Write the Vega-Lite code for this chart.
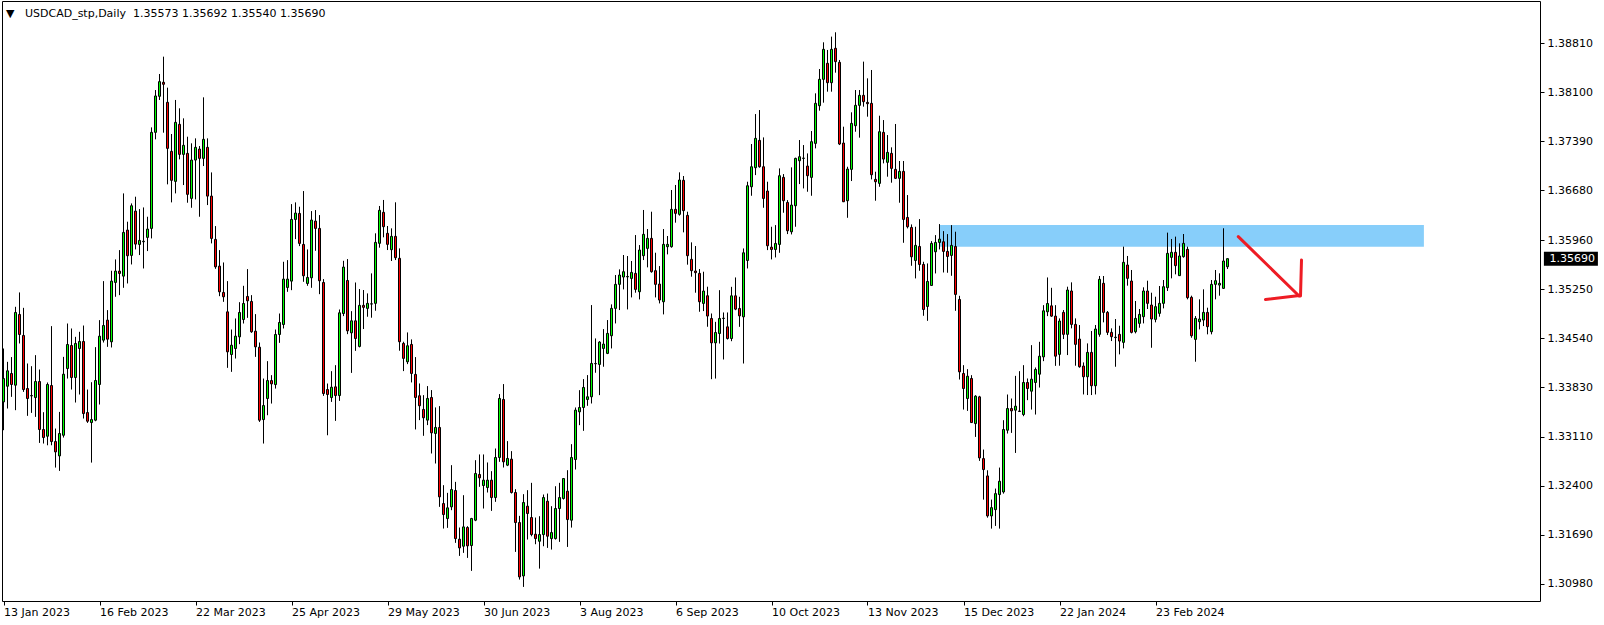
{
"$schema": "https://vega.github.io/schema/vega-lite/v6.json",
"width": 1538, "height": 600,
"autosize": {"type": "none"},
"padding": {"left": 2, "top": 1, "right": 64, "bottom": 24},
"background": "white",
"config": {"view": {"stroke": "black", "strokeWidth": 1}, "font": "DejaVu Sans",
  "scale": {"continuousPadding": 0},
  "axisX": {"domain": false, "grid": false, "ticks": true, "tickSize": 4, "tickColor": "black", "tickWidth": 1, "labelAlign": "left", "labelBaseline": "top", "labelPadding": 1, "labelFont": "DejaVu Sans", "labelFontSize": 11, "labelColor": "black", "labelFlush": false, "labelOverlap": false, "labelBound": false},
  "axisY": {"domain": false, "grid": false, "ticks": true, "tickSize": 4, "tickColor": "black", "tickWidth": 1, "labelPadding": 3, "labelFont": "DejaVu Sans", "labelFontSize": 11, "labelColor": "black", "labelBaseline": "middle", "labelFlush": false, "labelOverlap": false, "labelBound": false}
},
"title": {"text": "▼\u00a0\u00a0\u00a0USDCAD_stp,Daily\u00a0\u00a01.35573 1.35692 1.35540 1.35690", "anchor": "start", "frame": "group", "orient": "top", "offset": 0, "dx": 4, "dy": 27, "fontSize": 11, "fontWeight": "normal", "font": "DejaVu Sans", "color": "black", "baseline": "alphabetic"},
"datasets": {
"candles": [
{"i":0,"o":1.33616,"h":1.34389,"l":1.33206,"c":1.33954},
{"i":1,"o":1.33843,"h":1.34196,"l":1.3352,"c":1.34066},
{"i":2,"o":1.34027,"h":1.34265,"l":1.33689,"c":1.33868},
{"i":3,"o":1.33858,"h":1.34993,"l":1.33496,"c":1.34911},
{"i":4,"o":1.34882,"h":1.35201,"l":1.34462,"c":1.34592},
{"i":5,"o":1.34578,"h":1.34978,"l":1.33761,"c":1.33795},
{"i":6,"o":1.3381,"h":1.34172,"l":1.33414,"c":1.33665},
{"i":7,"o":1.33703,"h":1.34133,"l":1.33457,"c":1.33708},
{"i":8,"o":1.33679,"h":1.34293,"l":1.33399,"c":1.33911},
{"i":9,"o":1.33911,"h":1.34085,"l":1.33022,"c":1.33216},
{"i":10,"o":1.33216,"h":1.33467,"l":1.33013,"c":1.331},
{"i":11,"o":1.33119,"h":1.33897,"l":1.32988,"c":1.33868},
{"i":12,"o":1.33853,"h":1.34713,"l":1.32988,"c":1.33042},
{"i":13,"o":1.33042,"h":1.3323,"l":1.32665,"c":1.32892},
{"i":14,"o":1.32834,"h":1.33471,"l":1.32617,"c":1.33158},
{"i":15,"o":1.33133,"h":1.34268,"l":1.331,"c":1.34017},
{"i":16,"o":1.34099,"h":1.34751,"l":1.33954,"c":1.34447},
{"i":17,"o":1.34433,"h":1.34679,"l":1.33795,"c":1.33969},
{"i":18,"o":1.33969,"h":1.34558,"l":1.33607,"c":1.34462},
{"i":19,"o":1.34389,"h":1.34631,"l":1.33723,"c":1.34491},
{"i":20,"o":1.34491,"h":1.34722,"l":1.33375,"c":1.33447},
{"i":21,"o":1.33462,"h":1.33795,"l":1.33312,"c":1.33336},
{"i":22,"o":1.33317,"h":1.33901,"l":1.32737,"c":1.3336},
{"i":23,"o":1.33351,"h":1.34409,"l":1.33336,"c":1.33926},
{"i":24,"o":1.33868,"h":1.348,"l":1.33578,"c":1.34568},
{"i":25,"o":1.3451,"h":1.35365,"l":1.34476,"c":1.34722},
{"i":26,"o":1.348,"h":1.34945,"l":1.34413,"c":1.34524},
{"i":27,"o":1.34486,"h":1.35515,"l":1.34404,"c":1.35365},
{"i":28,"o":1.35346,"h":1.35679,"l":1.35138,"c":1.3551},
{"i":29,"o":1.3551,"h":1.35814,"l":1.35162,"c":1.35476},
{"i":30,"o":1.35437,"h":1.36635,"l":1.35268,"c":1.3607},
{"i":31,"o":1.36104,"h":1.36225,"l":1.35331,"c":1.35732},
{"i":32,"o":1.35737,"h":1.3649,"l":1.35606,"c":1.36456},
{"i":33,"o":1.36379,"h":1.36587,"l":1.35824,"c":1.35901},
{"i":34,"o":1.35896,"h":1.36408,"l":1.35742,"c":1.35954},
{"i":35,"o":1.35935,"h":1.36432,"l":1.35548,"c":1.35942},
{"i":36,"o":1.35998,"h":1.36297,"l":1.358,"c":1.36118},
{"i":37,"o":1.36128,"h":1.37591,"l":1.35983,"c":1.37519},
{"i":38,"o":1.37519,"h":1.38132,"l":1.37418,"c":1.38046},
{"i":39,"o":1.38041,"h":1.38364,"l":1.37988,"c":1.38253},
{"i":40,"o":1.38244,"h":1.38615,"l":1.37514,"c":1.38215},
{"i":41,"o":1.37954,"h":1.38166,"l":1.36766,"c":1.37287},
{"i":42,"o":1.37244,"h":1.37495,"l":1.36505,"c":1.36824},
{"i":43,"o":1.36809,"h":1.37988,"l":1.36635,"c":1.37664},
{"i":44,"o":1.37635,"h":1.37867,"l":1.37128,"c":1.372},
{"i":45,"o":1.372,"h":1.37722,"l":1.36756,"c":1.37331},
{"i":46,"o":1.37215,"h":1.37456,"l":1.365,"c":1.36621},
{"i":47,"o":1.36563,"h":1.3736,"l":1.36427,"c":1.37118},
{"i":48,"o":1.37118,"h":1.37432,"l":1.36548,"c":1.37302},
{"i":49,"o":1.37277,"h":1.37321,"l":1.36297,"c":1.37142},
{"i":50,"o":1.37142,"h":1.38026,"l":1.37031,"c":1.37418},
{"i":51,"o":1.37302,"h":1.37432,"l":1.36466,"c":1.36596},
{"i":52,"o":1.36596,"h":1.36939,"l":1.35911,"c":1.35983},
{"i":53,"o":1.35969,"h":1.36162,"l":1.35543,"c":1.35572},
{"i":54,"o":1.35582,"h":1.35814,"l":1.35147,"c":1.3521},
{"i":55,"o":1.35201,"h":1.35635,"l":1.35065,"c":1.35138},
{"i":56,"o":1.3492,"h":1.35365,"l":1.34109,"c":1.34341},
{"i":57,"o":1.34302,"h":1.34664,"l":1.34051,"c":1.34437},
{"i":58,"o":1.34389,"h":1.34824,"l":1.34244,"c":1.34568},
{"i":59,"o":1.34558,"h":1.3506,"l":1.34452,"c":1.34911},
{"i":60,"o":1.34809,"h":1.35297,"l":1.34751,"c":1.35041},
{"i":61,"o":1.35143,"h":1.35539,"l":1.34833,"c":1.3508},
{"i":62,"o":1.3507,"h":1.35162,"l":1.34616,"c":1.34631},
{"i":63,"o":1.3464,"h":1.34887,"l":1.34268,"c":1.34413},
{"i":64,"o":1.34408,"h":1.34476,"l":1.33326,"c":1.33351},
{"i":65,"o":1.3336,"h":1.33954,"l":1.33013,"c":1.33563},
{"i":66,"o":1.33665,"h":1.34206,"l":1.33423,"c":1.33925},
{"i":67,"o":1.33925,"h":1.34003,"l":1.33592,"c":1.33877},
{"i":68,"o":1.33867,"h":1.34664,"l":1.33809,"c":1.34592},
{"i":69,"o":1.34592,"h":1.34896,"l":1.34471,"c":1.34766},
{"i":70,"o":1.34737,"h":1.35645,"l":1.34679,"c":1.35394},
{"i":71,"o":1.35273,"h":1.35669,"l":1.3521,"c":1.35394},
{"i":72,"o":1.35365,"h":1.3648,"l":1.35234,"c":1.36258},
{"i":73,"o":1.36258,"h":1.36505,"l":1.35973,"c":1.3635},
{"i":74,"o":1.36345,"h":1.36442,"l":1.35872,"c":1.35911},
{"i":75,"o":1.35896,"h":1.36669,"l":1.35355,"c":1.35442},
{"i":76,"o":1.35331,"h":1.35824,"l":1.35297,"c":1.35418},
{"i":77,"o":1.35413,"h":1.36379,"l":1.35268,"c":1.36249},
{"i":78,"o":1.36234,"h":1.36394,"l":1.35804,"c":1.36128},
{"i":79,"o":1.36128,"h":1.36321,"l":1.35176,"c":1.3537},
{"i":80,"o":1.35345,"h":1.35394,"l":1.33703,"c":1.33737},
{"i":81,"o":1.33795,"h":1.33882,"l":1.33133,"c":1.33723},
{"i":82,"o":1.33679,"h":1.34061,"l":1.33616,"c":1.33829},
{"i":83,"o":1.33834,"h":1.34148,"l":1.33341,"c":1.33708},
{"i":84,"o":1.33708,"h":1.34954,"l":1.33631,"c":1.34906},
{"i":85,"o":1.34896,"h":1.35659,"l":1.34858,"c":1.35568},
{"i":86,"o":1.35374,"h":1.35684,"l":1.34597,"c":1.34645},
{"i":87,"o":1.34616,"h":1.3493,"l":1.34036,"c":1.3479},
{"i":88,"o":1.3479,"h":1.35345,"l":1.34355,"c":1.34534},
{"i":89,"o":1.34419,"h":1.3525,"l":1.34405,"c":1.35014},
{"i":90,"o":1.35014,"h":1.35236,"l":1.34671,"c":1.34985},
{"i":91,"o":1.3497,"h":1.35187,"l":1.34849,"c":1.35043},
{"i":92,"o":1.35033,"h":1.35477,"l":1.34835,"c":1.35036},
{"i":93,"o":1.35043,"h":1.36057,"l":1.34936,"c":1.35926},
{"i":94,"o":1.35912,"h":1.36453,"l":1.35849,"c":1.3639},
{"i":95,"o":1.36361,"h":1.3654,"l":1.35999,"c":1.36153},
{"i":96,"o":1.36057,"h":1.36163,"l":1.35815,"c":1.35897},
{"i":97,"o":1.3582,"h":1.36129,"l":1.35656,"c":1.36013},
{"i":98,"o":1.36013,"h":1.36506,"l":1.3567,"c":1.35704},
{"i":99,"o":1.35695,"h":1.35839,"l":1.34357,"c":1.34487},
{"i":100,"o":1.34463,"h":1.34487,"l":1.34062,"c":1.34246},
{"i":101,"o":1.34197,"h":1.34622,"l":1.34163,"c":1.34429},
{"i":102,"o":1.34448,"h":1.34521,"l":1.33898,"c":1.34028},
{"i":103,"o":1.34014,"h":1.34265,"l":1.33217,"c":1.3368},
{"i":104,"o":1.33705,"h":1.33883,"l":1.33352,"c":1.3356},
{"i":105,"o":1.33507,"h":1.33714,"l":1.33125,"c":1.33386},
{"i":106,"o":1.33352,"h":1.33845,"l":1.3328,"c":1.33666},
{"i":107,"o":1.3368,"h":1.33787,"l":1.32869,"c":1.33168},
{"i":108,"o":1.33159,"h":1.33536,"l":1.32724,"c":1.33246},
{"i":109,"o":1.33246,"h":1.33555,"l":1.32096,"c":1.32241},
{"i":110,"o":1.32144,"h":1.3241,"l":1.31782,"c":1.31985},
{"i":111,"o":1.31927,"h":1.32299,"l":1.31792,"c":1.32082},
{"i":112,"o":1.32096,"h":1.327,"l":1.32048,"c":1.32347},
{"i":113,"o":1.32333,"h":1.32458,"l":1.31575,"c":1.31637},
{"i":114,"o":1.31628,"h":1.31797,"l":1.31386,"c":1.31502},
{"i":115,"o":1.31526,"h":1.32265,"l":1.3143,"c":1.31806},
{"i":116,"o":1.31797,"h":1.31816,"l":1.31357,"c":1.31531},
{"i":117,"o":1.31536,"h":1.31937,"l":1.31169,"c":1.31927},
{"i":118,"o":1.31903,"h":1.32772,"l":1.31889,"c":1.32579},
{"i":119,"o":1.32565,"h":1.32855,"l":1.32386,"c":1.32516},
{"i":120,"o":1.32405,"h":1.32855,"l":1.32072,"c":1.32483},
{"i":121,"o":1.32376,"h":1.32739,"l":1.32304,"c":1.32483},
{"i":122,"o":1.32483,"h":1.32613,"l":1.32038,"c":1.32231},
{"i":123,"o":1.32231,"h":1.32941,"l":1.32169,"c":1.32811},
{"i":124,"o":1.32811,"h":1.33729,"l":1.32748,"c":1.33666},
{"i":125,"o":1.33651,"h":1.33874,"l":1.32666,"c":1.32748},
{"i":126,"o":1.327,"h":1.33048,"l":1.32686,"c":1.32797},
{"i":127,"o":1.32787,"h":1.32903,"l":1.32289,"c":1.32304},
{"i":128,"o":1.32304,"h":1.32352,"l":1.31444,"c":1.31869},
{"i":129,"o":1.31869,"h":1.31966,"l":1.31043,"c":1.31082},
{"i":130,"o":1.31096,"h":1.3228,"l":1.30937,"c":1.32159},
{"i":131,"o":1.32106,"h":1.32338,"l":1.31623,"c":1.32},
{"i":132,"o":1.31942,"h":1.32444,"l":1.3167,"c":1.31695},
{"i":133,"o":1.317,"h":1.31941,"l":1.31555,"c":1.31637},
{"i":134,"o":1.31598,"h":1.31961,"l":1.31202,"c":1.31695},
{"i":135,"o":1.31695,"h":1.32275,"l":1.31526,"c":1.32231},
{"i":136,"o":1.32178,"h":1.32289,"l":1.31502,"c":1.31671},
{"i":137,"o":1.31637,"h":1.32106,"l":1.31478,"c":1.31724},
{"i":138,"o":1.31637,"h":1.32395,"l":1.31623,"c":1.32072},
{"i":139,"o":1.32072,"h":1.32444,"l":1.31589,"c":1.32231},
{"i":140,"o":1.32217,"h":1.3251,"l":1.32202,"c":1.32506},
{"i":141,"o":1.32323,"h":1.32627,"l":1.31516,"c":1.31912},
{"i":142,"o":1.31903,"h":1.33004,"l":1.31796,"c":1.32811},
{"i":143,"o":1.32782,"h":1.33535,"l":1.32637,"c":1.33497},
{"i":144,"o":1.33472,"h":1.33786,"l":1.33279,"c":1.33535},
{"i":145,"o":1.33535,"h":1.33946,"l":1.33197,"c":1.33825},
{"i":146,"o":1.33651,"h":1.34004,"l":1.33559,"c":1.3369},
{"i":147,"o":1.3369,"h":1.35018,"l":1.33593,"c":1.34173},
{"i":148,"o":1.34168,"h":1.34535,"l":1.34038,"c":1.34172},
{"i":149,"o":1.34158,"h":1.34496,"l":1.33714,"c":1.34482},
{"i":150,"o":1.3439,"h":1.3467,"l":1.34125,"c":1.34453},
{"i":151,"o":1.34318,"h":1.34801,"l":1.34308,"c":1.34608},
{"i":152,"o":1.34574,"h":1.35028,"l":1.3439,"c":1.3497},
{"i":153,"o":1.3497,"h":1.35453,"l":1.34752,"c":1.35318},
{"i":154,"o":1.35318,"h":1.35535,"l":1.34946,"c":1.35453},
{"i":155,"o":1.35424,"h":1.35743,"l":1.35245,"c":1.35501},
{"i":156,"o":1.35426,"h":1.35728,"l":1.34955,"c":1.35432},
{"i":157,"o":1.35404,"h":1.35656,"l":1.35129,"c":1.35491},
{"i":158,"o":1.35477,"h":1.36032,"l":1.35197,"c":1.35245},
{"i":159,"o":1.35211,"h":1.35887,"l":1.351,"c":1.35815},
{"i":160,"o":1.35733,"h":1.36395,"l":1.3567,"c":1.36042},
{"i":161,"o":1.35839,"h":1.36119,"l":1.35564,"c":1.35984},
{"i":162,"o":1.35984,"h":1.3637,"l":1.35487,"c":1.35501},
{"i":163,"o":1.35516,"h":1.35776,"l":1.35129,"c":1.35318},
{"i":164,"o":1.35322,"h":1.35583,"l":1.35042,"c":1.35091},
{"i":165,"o":1.35066,"h":1.36119,"l":1.34883,"c":1.35897},
{"i":166,"o":1.35863,"h":1.36018,"l":1.35752,"c":1.35897},
{"i":167,"o":1.35863,"h":1.36684,"l":1.35849,"c":1.36404},
{"i":168,"o":1.36404,"h":1.36757,"l":1.36211,"c":1.36346},
{"i":169,"o":1.36332,"h":1.3694,"l":1.36313,"c":1.36829},
{"i":170,"o":1.36825,"h":1.36887,"l":1.36071,"c":1.36385},
{"i":171,"o":1.36317,"h":1.3637,"l":1.35603,"c":1.35733},
{"i":172,"o":1.3568,"h":1.35926,"l":1.35429,"c":1.35516},
{"i":173,"o":1.35511,"h":1.35873,"l":1.35197,"c":1.35487},
{"i":174,"o":1.35477,"h":1.3554,"l":1.34921,"c":1.35066},
{"i":175,"o":1.35042,"h":1.35501,"l":1.34931,"c":1.35221},
{"i":176,"o":1.35153,"h":1.35284,"l":1.34704,"c":1.34859},
{"i":177,"o":1.34824,"h":1.34896,"l":1.33945,"c":1.34471},
{"i":178,"o":1.34471,"h":1.34775,"l":1.33954,"c":1.34621},
{"i":179,"o":1.34606,"h":1.35234,"l":1.34461,"c":1.34824},
{"i":180,"o":1.34824,"h":1.34911,"l":1.3423,"c":1.34828},
{"i":181,"o":1.34703,"h":1.34911,"l":1.34519,"c":1.34534},
{"i":182,"o":1.34534,"h":1.35282,"l":1.34495,"c":1.35152},
{"i":183,"o":1.35152,"h":1.35418,"l":1.34944,"c":1.34959},
{"i":184,"o":1.34969,"h":1.35138,"l":1.34703,"c":1.34862},
{"i":185,"o":1.34848,"h":1.35838,"l":1.34172,"c":1.35775},
{"i":186,"o":1.35664,"h":1.36804,"l":1.35548,"c":1.36746},
{"i":187,"o":1.36731,"h":1.3735,"l":1.36601,"c":1.37021},
{"i":188,"o":1.37007,"h":1.37784,"l":1.369,"c":1.37432},
{"i":189,"o":1.37403,"h":1.37842,"l":1.37007,"c":1.37021},
{"i":190,"o":1.37021,"h":1.37446,"l":1.36427,"c":1.36562},
{"i":191,"o":1.36669,"h":1.36804,"l":1.35814,"c":1.35877},
{"i":192,"o":1.35857,"h":1.36152,"l":1.35679,"c":1.35823},
{"i":193,"o":1.35823,"h":1.36176,"l":1.35708,"c":1.3591},
{"i":194,"o":1.35896,"h":1.36997,"l":1.35775,"c":1.36891},
{"i":195,"o":1.36867,"h":1.36915,"l":1.36355,"c":1.36529},
{"i":196,"o":1.36504,"h":1.36538,"l":1.36046,"c":1.36094},
{"i":197,"o":1.36079,"h":1.37012,"l":1.36041,"c":1.36466},
{"i":198,"o":1.36456,"h":1.37152,"l":1.36152,"c":1.37142},
{"i":199,"o":1.37108,"h":1.37408,"l":1.3677,"c":1.37166},
{"i":200,"o":1.37142,"h":1.37335,"l":1.36707,"c":1.37146},
{"i":201,"o":1.37031,"h":1.37214,"l":1.36659,"c":1.36891},
{"i":202,"o":1.36867,"h":1.37538,"l":1.36601,"c":1.37384},
{"i":203,"o":1.37359,"h":1.38084,"l":1.37287,"c":1.37939},
{"i":204,"o":1.37905,"h":1.38436,"l":1.37833,"c":1.38287},
{"i":205,"o":1.38287,"h":1.38823,"l":1.37949,"c":1.38721},
{"i":206,"o":1.38519,"h":1.38712,"l":1.38108,"c":1.38238},
{"i":207,"o":1.38238,"h":1.38905,"l":1.38108,"c":1.38721},
{"i":208,"o":1.38736,"h":1.38968,"l":1.38383,"c":1.38543},
{"i":209,"o":1.38533,"h":1.38567,"l":1.37335,"c":1.3735},
{"i":210,"o":1.37364,"h":1.37601,"l":1.3651,"c":1.36514},
{"i":211,"o":1.36529,"h":1.37021,"l":1.36282,"c":1.36987},
{"i":212,"o":1.36983,"h":1.37809,"l":1.36814,"c":1.37649},
{"i":213,"o":1.37615,"h":1.38132,"l":1.37528,"c":1.3791},
{"i":214,"o":1.3791,"h":1.38132,"l":1.37442,"c":1.38055},
{"i":215,"o":1.38055,"h":1.38543,"l":1.37891,"c":1.37963},
{"i":216,"o":1.37953,"h":1.38301,"l":1.37746,"c":1.37934},
{"i":217,"o":1.37939,"h":1.38422,"l":1.36838,"c":1.36905},
{"i":218,"o":1.36838,"h":1.36949,"l":1.36529,"c":1.36804},
{"i":219,"o":1.3678,"h":1.3776,"l":1.36731,"c":1.37528},
{"i":220,"o":1.37519,"h":1.37697,"l":1.3707,"c":1.37132},
{"i":221,"o":1.37085,"h":1.3748,"l":1.36877,"c":1.37229},
{"i":222,"o":1.37215,"h":1.37302,"l":1.3679,"c":1.36997},
{"i":223,"o":1.36983,"h":1.3764,"l":1.36843,"c":1.36853},
{"i":224,"o":1.36853,"h":1.37104,"l":1.365,"c":1.36954},
{"i":225,"o":1.36954,"h":1.37104,"l":1.3592,"c":1.36258},
{"i":226,"o":1.36287,"h":1.36611,"l":1.36128,"c":1.36152},
{"i":227,"o":1.36142,"h":1.36186,"l":1.35587,"c":1.35717},
{"i":228,"o":1.35664,"h":1.36152,"l":1.35404,"c":1.35882},
{"i":229,"o":1.35867,"h":1.36263,"l":1.35515,"c":1.35606},
{"i":230,"o":1.35606,"h":1.35645,"l":1.34863,"c":1.34954},
{"i":231,"o":1.34998,"h":1.35621,"l":1.3479,"c":1.3536},
{"i":232,"o":1.35302,"h":1.35944,"l":1.35298,"c":1.35911},
{"i":233,"o":1.3579,"h":1.36031,"l":1.35476,"c":1.35925},
{"i":234,"o":1.35925,"h":1.36191,"l":1.35824,"c":1.35973},
{"i":235,"o":1.35935,"h":1.36089,"l":1.3549,"c":1.35795},
{"i":236,"o":1.35795,"h":1.36046,"l":1.35486,"c":1.35722},
{"i":237,"o":1.35737,"h":1.36176,"l":1.35442,"c":1.35882},
{"i":238,"o":1.35867,"h":1.3608,"l":1.34935,"c":1.35172},
{"i":239,"o":1.35099,"h":1.35152,"l":1.3394,"c":1.34051},
{"i":240,"o":1.34027,"h":1.34148,"l":1.33505,"c":1.3381},
{"i":241,"o":1.33665,"h":1.3409,"l":1.33486,"c":1.33988},
{"i":242,"o":1.33955,"h":1.34003,"l":1.3331,"c":1.33317},
{"i":243,"o":1.33302,"h":1.33713,"l":1.33109,"c":1.33699},
{"i":244,"o":1.33689,"h":1.33704,"l":1.32762,"c":1.32805},
{"i":245,"o":1.32795,"h":1.32926,"l":1.32201,"c":1.32636},
{"i":246,"o":1.32544,"h":1.32626,"l":1.3194,"c":1.31965},
{"i":247,"o":1.31965,"h":1.32201,"l":1.31781,"c":1.32085},
{"i":248,"o":1.32056,"h":1.32361,"l":1.3182,"c":1.32288},
{"i":249,"o":1.32274,"h":1.32665,"l":1.31781,"c":1.32467},
{"i":250,"o":1.32312,"h":1.33351,"l":1.32288,"c":1.33216},
{"i":251,"o":1.33206,"h":1.33723,"l":1.33158,"c":1.3352},
{"i":252,"o":1.3352,"h":1.33665,"l":1.33167,"c":1.33486},
{"i":253,"o":1.33496,"h":1.33993,"l":1.32877,"c":1.33554},
{"i":254,"o":1.33484,"h":1.34061,"l":1.33472,"c":1.33478},
{"i":255,"o":1.33433,"h":1.34148,"l":1.33409,"c":1.33897},
{"i":256,"o":1.33897,"h":1.33955,"l":1.33641,"c":1.3381},
{"i":257,"o":1.33771,"h":1.34438,"l":1.33505,"c":1.33945},
{"i":258,"o":1.33897,"h":1.34114,"l":1.33433,"c":1.34085},
{"i":259,"o":1.34017,"h":1.34486,"l":1.33824,"c":1.34278},
{"i":260,"o":1.34268,"h":1.35017,"l":1.34206,"c":1.34935},
{"i":261,"o":1.34921,"h":1.35418,"l":1.34858,"c":1.35041},
{"i":262,"o":1.35007,"h":1.35268,"l":1.34848,"c":1.34858},
{"i":263,"o":1.34858,"h":1.35017,"l":1.34138,"c":1.34278},
{"i":264,"o":1.34304,"h":1.34825,"l":1.3414,"c":1.34787},
{"i":265,"o":1.34912,"h":1.34946,"l":1.34526,"c":1.34594},
{"i":266,"o":1.34594,"h":1.35284,"l":1.34294,"c":1.35236},
{"i":267,"o":1.35222,"h":1.35347,"l":1.34681,"c":1.34738},
{"i":268,"o":1.34738,"h":1.34825,"l":1.3414,"c":1.34449},
{"i":269,"o":1.34526,"h":1.34729,"l":1.34111,"c":1.34125},
{"i":270,"o":1.34135,"h":1.34188,"l":1.33724,"c":1.3398},
{"i":271,"o":1.3398,"h":1.34463,"l":1.33715,"c":1.34333},
{"i":272,"o":1.34333,"h":1.34642,"l":1.33715,"c":1.3385},
{"i":273,"o":1.3385,"h":1.34729,"l":1.33724,"c":1.34671},
{"i":274,"o":1.34594,"h":1.35439,"l":1.3456,"c":1.35391},
{"i":275,"o":1.35333,"h":1.35439,"l":1.34768,"c":1.34912},
{"i":276,"o":1.34912,"h":1.34932,"l":1.34584,"c":1.34623},
{"i":277,"o":1.34623,"h":1.34681,"l":1.34497,"c":1.3456},
{"i":278,"o":1.34553,"h":1.34816,"l":1.34125,"c":1.34547},
{"i":279,"o":1.34594,"h":1.34719,"l":1.34304,"c":1.34497},
{"i":280,"o":1.34478,"h":1.35864,"l":1.34391,"c":1.35637},
{"i":281,"o":1.35598,"h":1.35729,"l":1.35299,"c":1.35405},
{"i":282,"o":1.35366,"h":1.35526,"l":1.34608,"c":1.34623},
{"i":283,"o":1.34632,"h":1.35077,"l":1.34608,"c":1.34825},
{"i":284,"o":1.34753,"h":1.34961,"l":1.3469,"c":1.34883},
{"i":285,"o":1.3485,"h":1.35275,"l":1.34753,"c":1.35222},
{"i":286,"o":1.35222,"h":1.35371,"l":1.34961,"c":1.35043},
{"i":287,"o":1.35019,"h":1.35197,"l":1.344,"c":1.34816},
{"i":288,"o":1.34811,"h":1.35139,"l":1.34768,"c":1.34995},
{"i":289,"o":1.34898,"h":1.35294,"l":1.3485,"c":1.35043},
{"i":290,"o":1.35043,"h":1.35381,"l":1.3497,"c":1.35284},
{"i":291,"o":1.3527,"h":1.36067,"l":1.35222,"c":1.35767},
{"i":292,"o":1.35709,"h":1.35975,"l":1.35405,"c":1.35782},
{"i":293,"o":1.35782,"h":1.36009,"l":1.35463,"c":1.35589},
{"i":294,"o":1.35444,"h":1.35912,"l":1.35439,"c":1.35729},
{"i":295,"o":1.35719,"h":1.36047,"l":1.35704,"c":1.35912},
{"i":296,"o":1.35825,"h":1.35864,"l":1.35101,"c":1.35125},
{"i":297,"o":1.3513,"h":1.35154,"l":1.34545,"c":1.34574},
{"i":298,"o":1.34521,"h":1.34859,"l":1.34198,"c":1.34825},
{"i":299,"o":1.34777,"h":1.35101,"l":1.34666,"c":1.34816},
{"i":300,"o":1.34801,"h":1.35246,"l":1.34714,"c":1.34912},
{"i":301,"o":1.34912,"h":1.3498,"l":1.34594,"c":1.34705},
{"i":302,"o":1.34632,"h":1.35381,"l":1.34594,"c":1.35318},
{"i":303,"o":1.35318,"h":1.35526,"l":1.35101,"c":1.35371},
{"i":304,"o":1.35308,"h":1.35478,"l":1.35154,"c":1.35333},
{"i":305,"o":1.3526,"h":1.3613,"l":1.35251,"c":1.35656},
{"i":306,"o":1.35573,"h":1.35692,"l":1.3554,"c":1.3569}
],
"zone": [{"from": 233.95, "to": 355.1, "hi": 1.36178, "lo": 1.35864}],
"arrow": [
{"a": 308.7, "pa": 1.36009, "b": 323.9, "pb": 1.3515},
{"a": 315.5, "pa": 1.35099, "b": 324.0, "pb": 1.35157},
{"a": 324.5, "pa": 1.35671, "b": 324.25, "pb": 1.3515}
],
"last": [{"p": 1.3569, "label": "1.35690"}]
},
"layer": [
{"data": {"name": "zone"},
 "mark": {"type": "rect", "color": "#87CEFA"},
 "encoding": {
  "x": {"field": "from", "type": "quantitative", "scale": {"domain": [-0.375, 384.125], "nice": false, "zero": false, "padding": 0},
   "axis": {"title": null, "orient": "bottom", "values": [0,24,48,72,96,120,144,168,192,216,240,264,288], "labelExpr": "['13 Jan 2023','16 Feb 2023','22 Mar 2023','25 Apr 2023','29 May 2023','30 Jun 2023','3 Aug 2023','6 Sep 2023','10 Oct 2023','13 Nov 2023','15 Dec 2023','22 Jan 2024','23 Feb 2024'][round(datum.value/24)]"}},
  "x2": {"field": "to"},
  "y": {"field": "hi", "type": "quantitative", "scale": {"domain": [1.30733, 1.39421], "nice": false, "zero": false, "padding": 0},
   "axis": {"title": null, "orient": "right", "values": [1.3098,1.3169,1.324,1.3311,1.3383,1.3454,1.3525,1.3596,1.3668,1.3739,1.381,1.3881], "format": ".5f"}},
  "y2": {"field": "lo"}
 }},
{"data": {"name": "candles"},
 "mark": {"type": "rule", "color": "black", "strokeWidth": 1},
 "encoding": {
  "x": {"field": "i", "type": "quantitative", "scale": {"domain": [-0.375, 384.125], "nice": false, "zero": false, "padding": 0},
   "axis": {"title": null, "orient": "bottom", "values": [0,24,48,72,96,120,144,168,192,216,240,264,288], "labelExpr": "['13 Jan 2023','16 Feb 2023','22 Mar 2023','25 Apr 2023','29 May 2023','30 Jun 2023','3 Aug 2023','6 Sep 2023','10 Oct 2023','13 Nov 2023','15 Dec 2023','22 Jan 2024','23 Feb 2024'][round(datum.value/24)]"}},
  "y": {"field": "l", "type": "quantitative", "scale": {"domain": [1.30733, 1.39421], "nice": false, "zero": false, "padding": 0},
   "axis": {"title": null, "orient": "right", "values": [1.3098,1.3169,1.324,1.3311,1.3383,1.3454,1.3525,1.3596,1.3668,1.3739,1.381,1.3881], "format": ".5f"}},
  "y2": {"field": "h"}
 }},
{"data": {"name": "candles"},
 "mark": {"type": "bar", "size": 2, "stroke": "black", "strokeWidth": 1},
 "encoding": {
  "x": {"field": "i", "type": "quantitative", "scale": {"domain": [-0.375, 384.125], "nice": false, "zero": false, "padding": 0},
   "axis": {"title": null, "orient": "bottom", "values": [0,24,48,72,96,120,144,168,192,216,240,264,288], "labelExpr": "['13 Jan 2023','16 Feb 2023','22 Mar 2023','25 Apr 2023','29 May 2023','30 Jun 2023','3 Aug 2023','6 Sep 2023','10 Oct 2023','13 Nov 2023','15 Dec 2023','22 Jan 2024','23 Feb 2024'][round(datum.value/24)]"}},
  "y": {"field": "o", "type": "quantitative", "scale": {"domain": [1.30733, 1.39421], "nice": false, "zero": false, "padding": 0},
   "axis": {"title": null, "orient": "right", "values": [1.3098,1.3169,1.324,1.3311,1.3383,1.3454,1.3525,1.3596,1.3668,1.3739,1.381,1.3881], "format": ".5f"}},
  "y2": {"field": "c"},
  "fill": {"condition": {"test": "datum.c >= datum.o", "value": "#00FF00"}, "value": "#FF0000"}
 }},
{"data": {"name": "arrow"},
 "mark": {"type": "rule", "color": "#EE1C24", "strokeWidth": 3, "strokeCap": "round"},
 "encoding": {
  "x": {"field": "a", "type": "quantitative", "scale": {"domain": [-0.375, 384.125], "nice": false, "zero": false, "padding": 0},
   "axis": {"title": null, "orient": "bottom", "values": [0,24,48,72,96,120,144,168,192,216,240,264,288], "labelExpr": "['13 Jan 2023','16 Feb 2023','22 Mar 2023','25 Apr 2023','29 May 2023','30 Jun 2023','3 Aug 2023','6 Sep 2023','10 Oct 2023','13 Nov 2023','15 Dec 2023','22 Jan 2024','23 Feb 2024'][round(datum.value/24)]"}},
  "x2": {"field": "b"},
  "y": {"field": "pa", "type": "quantitative", "scale": {"domain": [1.30733, 1.39421], "nice": false, "zero": false, "padding": 0},
   "axis": {"title": null, "orient": "right", "values": [1.3098,1.3169,1.324,1.3311,1.3383,1.3454,1.3525,1.3596,1.3668,1.3739,1.381,1.3881], "format": ".5f"}},
  "y2": {"field": "pb"}
 }},
{"data": {"name": "last"},
 "mark": {"type": "bar", "color": "black", "size": 14, "orient": "horizontal"},
 "encoding": {
  "x": {"datum": 385.1, "type": "quantitative", "scale": {"domain": [-0.375, 384.125], "nice": false, "zero": false, "padding": 0},
   "axis": {"title": null, "orient": "bottom", "values": [0,24,48,72,96,120,144,168,192,216,240,264,288], "labelExpr": "['13 Jan 2023','16 Feb 2023','22 Mar 2023','25 Apr 2023','29 May 2023','30 Jun 2023','3 Aug 2023','6 Sep 2023','10 Oct 2023','13 Nov 2023','15 Dec 2023','22 Jan 2024','23 Feb 2024'][round(datum.value/24)]"}},
  "x2": {"datum": 398.6},
  "y": {"field": "p", "type": "quantitative", "scale": {"domain": [1.30733, 1.39421], "nice": false, "zero": false, "padding": 0},
   "axis": {"title": null, "orient": "right", "values": [1.3098,1.3169,1.324,1.3311,1.3383,1.3454,1.3525,1.3596,1.3668,1.3739,1.381,1.3881], "format": ".5f"}}
 }},
{"data": {"name": "last"},
 "mark": {"type": "text", "color": "white", "font": "DejaVu Sans", "fontSize": 11, "align": "left", "baseline": "middle"},
 "encoding": {
  "x": {"datum": 386.5, "type": "quantitative", "scale": {"domain": [-0.375, 384.125], "nice": false, "zero": false, "padding": 0},
   "axis": {"title": null, "orient": "bottom", "values": [0,24,48,72,96,120,144,168,192,216,240,264,288], "labelExpr": "['13 Jan 2023','16 Feb 2023','22 Mar 2023','25 Apr 2023','29 May 2023','30 Jun 2023','3 Aug 2023','6 Sep 2023','10 Oct 2023','13 Nov 2023','15 Dec 2023','22 Jan 2024','23 Feb 2024'][round(datum.value/24)]"}},
  "y": {"field": "p", "type": "quantitative", "scale": {"domain": [1.30733, 1.39421], "nice": false, "zero": false, "padding": 0},
   "axis": {"title": null, "orient": "right", "values": [1.3098,1.3169,1.324,1.3311,1.3383,1.3454,1.3525,1.3596,1.3668,1.3739,1.381,1.3881], "format": ".5f"}},
  "text": {"field": "label"}
 }}
]
}
